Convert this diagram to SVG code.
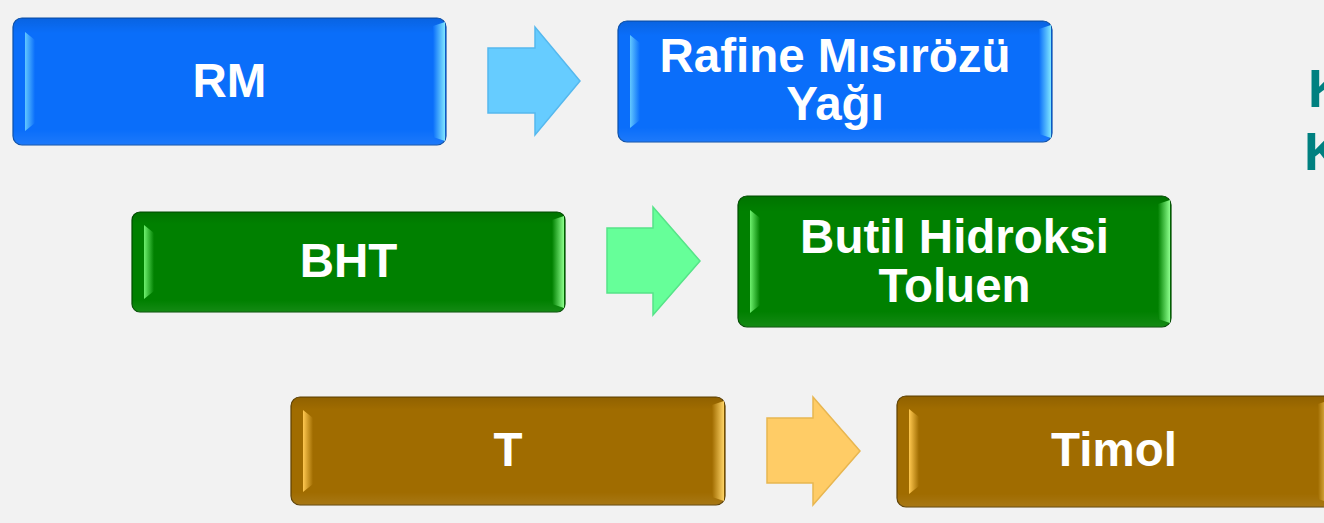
<svg xmlns="http://www.w3.org/2000/svg" width="1324" height="523" viewBox="0 0 1324 523">
<defs>
<linearGradient id="bL" x1="0" y1="0" x2="1" y2="0"><stop offset="0" stop-color="#62C8FF"/><stop offset="1" stop-color="#0A6EFA"/></linearGradient>
<linearGradient id="bR" x1="0" y1="0" x2="1" y2="0"><stop offset="0" stop-color="#0A6EFA"/><stop offset="1" stop-color="#7FE6FF"/></linearGradient>
<linearGradient id="gL" x1="0" y1="0" x2="1" y2="0"><stop offset="0" stop-color="#6EF06E"/><stop offset="1" stop-color="#008000"/></linearGradient>
<linearGradient id="gR" x1="0" y1="0" x2="1" y2="0"><stop offset="0" stop-color="#008000"/><stop offset="1" stop-color="#8CFF8C"/></linearGradient>
<linearGradient id="oL" x1="0" y1="0" x2="1" y2="0"><stop offset="0" stop-color="#FFC850"/><stop offset="1" stop-color="#A06C00"/></linearGradient>
<linearGradient id="oR" x1="0" y1="0" x2="1" y2="0"><stop offset="0" stop-color="#A06C00"/><stop offset="1" stop-color="#FFD466"/></linearGradient>
<linearGradient id="vshade" x1="0" y1="0" x2="0" y2="1"><stop offset="0" stop-color="#000" stop-opacity="0.10"/><stop offset="0.12" stop-color="#000" stop-opacity="0"/><stop offset="0.88" stop-color="#fff" stop-opacity="0"/><stop offset="1" stop-color="#fff" stop-opacity="0.08"/></linearGradient>
</defs>
<style>
.lbl{font-family:"Liberation Sans",Arial,sans-serif;font-weight:bold;font-size:47.5px;fill:#ffffff;text-anchor:middle}
.blue{fill:#0A6EFA;stroke:#0A4FA8;stroke-width:1.2}
.green{fill:#008000;stroke:#004C00;stroke-width:1.2}
.brown{fill:#A06C00;stroke:#5E4000;stroke-width:1.2}
.sh{fill:url(#vshade)}
.arr{stroke-width:1.5;stroke-linejoin:miter}
.teal{font-family:"Liberation Sans",Arial,sans-serif;font-weight:bold;font-size:53px;fill:#008080}
</style>
<rect width="1324" height="523" fill="#F2F2F2"/>

<g id="connectors">
<polygon class="arr" points="488,48 535,48 535,27 580,81 535,135 535,113 488,113" fill="#66CCFF" stroke="#55B8EE"/>
<polygon class="arr" points="607,228 653,228 653,207 700,261 653,315 653,293 607,293" fill="#66FF99" stroke="#55E488"/>
<polygon class="arr" points="767,418 813,418 813,397 860,451 813,505 813,483 767,483" fill="#FFCC66" stroke="#E8B650"/>
</g>

<g id="node-rm">
<rect class="blue" x="13" y="18" width="433" height="127" rx="9"/>
<rect class="sh" x="13" y="18" width="433" height="127" rx="9"/>
<polygon points="25,32 35,40 35,123 25,131" fill="url(#bL)"/>
<polygon points="433,26 445,22 445,141 433,137" fill="url(#bR)"/>
<text class="lbl" x="229.5" y="97">RM</text>
</g>

<g id="node-rafine">
<rect class="blue" x="618" y="21" width="434" height="121" rx="9"/>
<rect class="sh" x="618" y="21" width="434" height="121" rx="9"/>
<polygon points="630,35 640,43 640,120 630,128" fill="url(#bL)"/>
<polygon points="1039,29 1051,25 1051,138 1039,134" fill="url(#bR)"/>
<text class="lbl" x="835" y="72">Rafine Mısırözü</text>
<text class="lbl" x="835" y="120">Yağı</text>
</g>

<g id="node-bht">
<rect class="green" x="132" y="212" width="433" height="100" rx="8"/>
<rect class="sh" x="132" y="212" width="433" height="100" rx="8"/>
<polygon points="144,225 154,233 154,291 144,299" fill="url(#gL)"/>
<polygon points="552,220 564,216 564,308 552,304" fill="url(#gR)"/>
<text class="lbl" x="348.5" y="277">BHT</text>
</g>

<g id="node-butil">
<rect class="green" x="738" y="196" width="433" height="131" rx="9"/>
<rect class="sh" x="738" y="196" width="433" height="131" rx="9"/>
<polygon points="750,210 760,218 760,305 750,313" fill="url(#gL)"/>
<polygon points="1158,204 1170,200 1170,323 1158,319" fill="url(#gR)"/>
<text class="lbl" x="954.5" y="253">Butil Hidroksi</text>
<text class="lbl" x="954.5" y="302">Toluen</text>
</g>

<g id="node-t">
<rect class="brown" x="291" y="397" width="434" height="108" rx="9"/>
<rect class="sh" x="291" y="397" width="434" height="108" rx="9"/>
<polygon points="303,410 313,418 313,484 303,492" fill="url(#oL)"/>
<polygon points="712,405 724,401 724,501 712,497" fill="url(#oR)"/>
<text class="lbl" x="508" y="466">T</text>
</g>

<g id="node-timol">
<rect class="brown" x="897" y="396" width="434" height="111" rx="9"/>
<rect class="sh" x="897" y="396" width="434" height="111" rx="9"/>
<polygon points="909,409 919,417 919,486 909,494" fill="url(#oL)"/>
<polygon points="1318,404 1330,400 1330,503 1318,499" fill="url(#oR)"/>
<text class="lbl" x="1114" y="466">Timol</text>
</g>

<g id="side-text">
<text class="teal" x="1308" y="107">K</text>
<text class="teal" x="1304" y="170">K</text>
</g>
</svg>
